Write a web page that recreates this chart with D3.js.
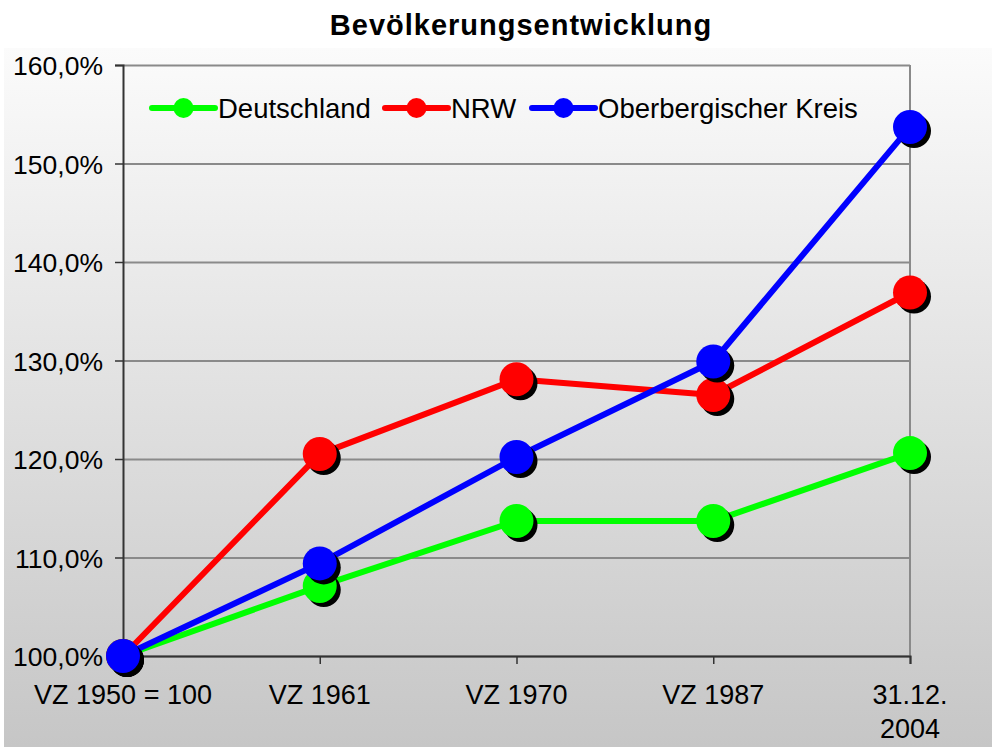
<!DOCTYPE html>
<html>
<head>
<meta charset="utf-8">
<script src="https://cdn.jsdelivr.net/npm/d3@7"></script>
<style>
  html, body { margin:0; padding:0; background:#fff; }
  svg { display:block; font-family:"Liberation Sans", Arial, sans-serif; }
</style>
</head>
<body>
<svg id="chart" width="992" height="747"></svg>
<script>

var categories = ["VZ 1950 = 100", "VZ 1961", "VZ 1970", "VZ 1987", "31.12.\n2004"];
var seriesNames = ["Deutschland", "NRW", "Oberbergischer Kreis"];
var seriesColors = ["#00ff00", "#ff0000", "#0000ff"];
var deutschland = [100.0, 107.1, 113.7, 113.7, 120.6];
var nrw = [100.0, 120.5, 128.1, 126.5, 136.9];
var oberberg = [100.0, 109.4, 120.2, 129.9, 153.7];
var yTicks = [100, 110, 120, 130, 140, 150, 160];

var series = [deutschland, nrw, oberberg].map(function(values, i){
  return {name: seriesNames[i], color: seriesColors[i], values: values};
});

var svg = d3.select("#chart");
var W = 992, H = 747;
var plot = {left:123, right:910, top:65, bottom:656};

// background gradient
var defs = svg.append("defs");
var grad = defs.append("linearGradient")
  .attr("id", "bg").attr("x1", 0).attr("y1", 0).attr("x2", 0).attr("y2", 1);
grad.append("stop").attr("offset", "0%").attr("stop-color", "#fbfbfb");
grad.append("stop").attr("offset", "100%").attr("stop-color", "#c6c6c6");

svg.append("rect").attr("width", W).attr("height", H).attr("fill", "#fff");
svg.append("rect")
  .attr("x", 4).attr("y", 48)
  .attr("width", W - 4).attr("height", H - 48)
  .attr("fill", "url(#bg)");

svg.append("text")
  .attr("x", 521).attr("y", 35)
  .attr("text-anchor", "middle")
  .attr("font-size", "29px")
  .attr("font-weight", "bold")
  .attr("letter-spacing", "1px")
  .attr("fill", "#000")
  .text("Bevölkerungsentwicklung");

var x = d3.scalePoint().domain(d3.range(categories.length)).range([plot.left, plot.right]);
var y = d3.scaleLinear().domain([100, 160]).range([plot.bottom, plot.top]);

// gridlines
var grid = svg.append("g")
  .attr("transform", "translate(" + plot.left + ",0)")
  .call(d3.axisLeft(y).tickValues(yTicks).tickSize(-(plot.right - plot.left)).tickFormat(""));
grid.select(".domain").remove();
grid.selectAll("line").attr("stroke", "#8a8a8a").attr("stroke-width", 2);

// right border
svg.append("line")
  .attr("x1", plot.right).attr("x2", plot.right)
  .attr("y1", plot.top).attr("y2", plot.bottom)
  .attr("stroke", "#8a8a8a").attr("stroke-width", 2);

// y axis
var yAxis = svg.append("g")
  .attr("transform", "translate(" + plot.left + ",0)")
  .call(d3.axisLeft(y).tickValues(yTicks).tickSize(8).tickPadding(12)
    .tickFormat(function(d){ return d.toFixed(1).replace(".", ",") + "%"; }));
yAxis.select(".domain").attr("stroke", "#333").attr("stroke-width", 2);
yAxis.selectAll(".tick line").attr("stroke", "#333").attr("stroke-width", 1.5);
yAxis.selectAll("text")
  .attr("font-size", "26.5px")
  .attr("font-family", "Liberation Sans, Arial, sans-serif")
  .attr("fill", "#000")
  .attr("dy", "0.36em");

// x axis
var xAxis = svg.append("g")
  .attr("transform", "translate(0," + plot.bottom + ")")
  .call(d3.axisBottom(x).tickSize(8).tickFormat(""));
xAxis.select(".domain").attr("stroke", "#333").attr("stroke-width", 2);
xAxis.selectAll(".tick line").attr("stroke", "#333").attr("stroke-width", 1.5);

var xLabels = svg.append("g").selectAll("text")
  .data(categories)
  .enter().append("text")
  .attr("text-anchor", "middle")
  .attr("font-size", "27px")
  .attr("fill", "#000")
  .attr("transform", function(d, i){ return "translate(" + x(i) + ",704)"; });
xLabels.each(function(d){
  var t = d3.select(this);
  d.split("\n").forEach(function(line, k){
    t.append("tspan").attr("x", 0).attr("y", k * 34).text(line);
  });
});

// series
var line = d3.line()
  .x(function(d, i){ return x(i); })
  .y(function(d){ return y(d); });

series.forEach(function(s){
  var g = svg.append("g");
  g.append("path")
    .attr("d", line(s.values))
    .attr("fill", "none")
    .attr("stroke", s.color)
    .attr("stroke-width", 6)
    .attr("stroke-linejoin", "round");
  g.selectAll(".shadow")
    .data(s.values)
    .enter().append("circle")
    .attr("class", "shadow")
    .attr("cx", function(d, i){ return x(i) + 4; })
    .attr("cy", function(d){ return y(d) + 4; })
    .attr("r", 17)
    .attr("fill", "#000");
  g.selectAll(".marker")
    .data(s.values)
    .enter().append("circle")
    .attr("class", "marker")
    .attr("cx", function(d, i){ return x(i); })
    .attr("cy", function(d){ return y(d); })
    .attr("r", 17)
    .attr("fill", s.color);
});

// legend
var legendX = [152, 385, 532];
var legend = svg.append("g").selectAll("g")
  .data(series)
  .enter().append("g")
  .attr("transform", function(d, i){ return "translate(" + legendX[i] + ",108)"; });
legend.append("line")
  .attr("x1", 0).attr("x2", 63)
  .attr("stroke", function(d){ return d.color; })
  .attr("stroke-width", 6)
  .attr("stroke-linecap", "round");
legend.append("circle")
  .attr("cx", 31.5).attr("r", 10)
  .attr("fill", function(d){ return d.color; });
legend.append("text")
  .attr("x", 66).attr("y", 10)
  .attr("font-size", "27.5px")
  .attr("fill", "#000")
  .text(function(d){ return d.name; });

</script>
</body>
</html>
